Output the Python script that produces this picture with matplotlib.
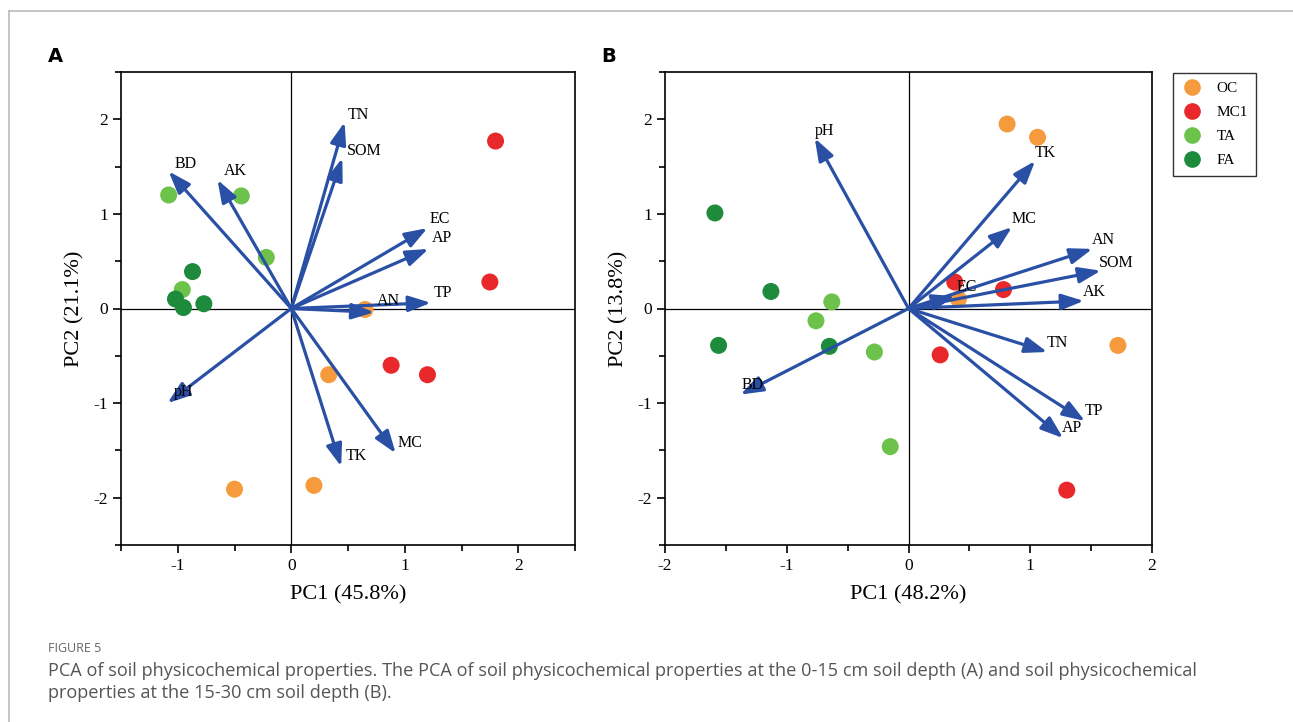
import numpy as np
import matplotlib
matplotlib.use('Agg')
import matplotlib.pyplot as plt
from matplotlib.lines import Line2D
from matplotlib.ticker import MultipleLocator, FuncFormatter

groups = ['OC', 'MC1', 'TA', 'FA']
colors = ['#F59B3D', '#E8282B', '#6DC24B', '#1E8B3C']
blue = '#2A50A6'

# panel A (0-15 cm) sample scores
a_pts = {
    'OC': ([0.65, 0.33, -0.50, 0.20], [-0.01, -0.70, -1.91, -1.87]),
    'MC1': ([1.80, 1.75, 0.88, 1.20], [1.77, 0.28, -0.60, -0.70]),
    'TA': ([-1.08, -0.44, -0.22, -0.96], [1.20, 1.19, 0.54, 0.20]),
    'FA': ([-0.87, -1.02, -0.95, -0.77], [0.39, 0.10, 0.01, 0.05]),
}
a_vars = ['TN', 'SOM', 'BD', 'AK', 'EC', 'AP', 'TP', 'AN', 'pH', 'TK', 'MC']
a_vx = [0.47, 0.45, -1.08, -0.65, 1.20, 1.21, 1.23, 0.73, -1.09, 0.44, 0.92]
a_vy = [1.97, 1.59, 1.45, 1.36, 0.85, 0.63, 0.06, -0.04, -1.00, -1.67, -1.53]
a_lx = [0.59, 0.64, -0.93, -0.49, 1.31, 1.33, 1.34, 0.86, -0.95, 0.57, 1.05]
a_ly = [2.05, 1.67, 1.53, 1.45, 0.95, 0.74, 0.16, 0.08, -0.88, -1.56, -1.42]

# panel B (15-30 cm)
b_pts = {
    'OC': ([0.81, 1.06, 0.41, 1.72], [1.95, 1.81, 0.10, -0.39]),
    'MC1': ([0.38, 0.78, 0.26, 1.30], [0.28, 0.20, -0.49, -1.92]),
    'TA': ([-0.63, -0.76, -0.28, -0.15], [0.07, -0.13, -0.46, -1.46]),
    'FA': ([-1.59, -1.13, -1.56, -0.65], [1.01, 0.18, -0.39, -0.40]),
}
b_vars = ['pH', 'TK', 'MC', 'AN', 'SOM', 'AK', 'EC', 'TN', 'TP', 'AP', 'BD']
b_vx = [-0.77, 1.04, 0.85, 1.51, 1.58, 1.44, 0.38, 1.14, 1.45, 1.27, -1.38]
b_vy = [1.80, 1.56, 0.86, 0.63, 0.40, 0.08, 0.13, -0.46, -1.19, -1.37, -0.91]
b_lx = [-0.69, 1.12, 0.95, 1.60, 1.71, 1.53, 0.48, 1.22, 1.52, 1.34, -1.28]
b_ly = [1.88, 1.64, 0.95, 0.72, 0.48, 0.17, 0.23, -0.36, -1.08, -1.26, -0.81]

serif = 'Liberation Serif'

fig = plt.figure(figsize=(12.93, 7.22), dpi=100)
axA = fig.add_axes([121/1293, 1-545/722, 454/1293, 473/722])
axB = fig.add_axes([665/1293, 1-545/722, 487/1293, 473/722])


def draw(ax, pts, vars_, vx, vy, lx, ly, xlim, xlabel, ylabel):
    for g, c in zip(groups, colors):
        ax.scatter(pts[g][0], pts[g][1], s=150, color=c, edgecolors='none', zorder=2)
    ax.axhline(0, color='black', lw=0.9, zorder=1)
    ax.axvline(0, color='black', lw=0.9, zorder=1)
    for name, x, y, tx, ty in zip(vars_, vx, vy, lx, ly):
        ax.annotate('', xy=(x, y), xytext=(0, 0),
                    arrowprops=dict(arrowstyle='-|>,head_length=0.9,head_width=0.32',
                                    color=blue, lw=2.3, shrinkA=0, shrinkB=0,
                                    mutation_scale=15), zorder=3)
        ax.text(tx, ty, name, fontsize=11.5, family=serif, ha='center', va='center', zorder=4)
    ax.set_xlim(*xlim)
    ax.set_ylim(-2.5, 2.5)
    ax.xaxis.set_major_locator(MultipleLocator(1))
    ax.xaxis.set_minor_locator(MultipleLocator(0.5))
    ax.yaxis.set_major_locator(MultipleLocator(1))
    ax.yaxis.set_minor_locator(MultipleLocator(0.5))
    # hyphen minus like the original
    ax.xaxis.set_major_formatter(FuncFormatter(lambda v, p: '%d' % v))
    ax.yaxis.set_major_formatter(FuncFormatter(lambda v, p: '%d' % v))
    ax.tick_params(which='both', direction='out', top=False, right=False, width=1.2)
    ax.tick_params(which='major', length=6, labelsize=12.5)
    ax.tick_params(which='minor', length=4)
    for lab in ax.get_xticklabels() + ax.get_yticklabels():
        lab.set_family(serif)
    for s in ax.spines.values():
        s.set_linewidth(1.2)
    ax.set_xlabel(xlabel, fontsize=16, family=serif, labelpad=8)
    ax.set_ylabel(ylabel, fontsize=16, family=serif, labelpad=6)


draw(axA, a_pts, a_vars, a_vx, a_vy, a_lx, a_ly, (-1.5, 2.5), 'PC1 (45.8%)', 'PC2 (21.1%)')
draw(axB, b_pts, b_vars, b_vx, b_vy, b_lx, b_ly, (-2, 2), 'PC1 (48.2%)', 'PC2 (13.8%)')

handles = [Line2D([], [], marker='o', ls='none', ms=12, color=c, mec='none') for c in colors]
leg = fig.legend(handles, groups, loc='upper left', bbox_to_anchor=(1173/1293, 1-73/722),
                 prop={'family': serif, 'size': 11}, frameon=True, fancybox=False,
                 edgecolor='black', handletextpad=0.85, labelspacing=0.68, borderpad=0.55,
                 handlelength=1.45, borderaxespad=0)
leg.get_frame().set_linewidth(1.0)

fig.text(55/1293, 1-57/722, 'A', fontsize=14, weight='bold', ha='center', va='center')
fig.text(609/1293, 1-57/722, 'B', fontsize=14, weight='bold', ha='center', va='center')

fig.text(48/1293, 1-648/722, 'FIGURE 5', fontsize=9, color='#666666', family='Open Sans',
         va='center')
fig.text(48/1293, 1-671/722,
         'PCA of soil physicochemical properties. The PCA of soil physicochemical properties at the 0-15 cm soil depth (A) and soil physicochemical',
         fontsize=13.1, color='#555555', family='Open Sans', va='center')
fig.text(48/1293, 1-693/722, 'properties at the 15-30 cm soil depth (B).',
         fontsize=13.1, color='#555555', family='Open Sans', va='center')

# page border
fig.add_artist(Line2D([9/1293, 9/1293], [0, 1-11/722], color='#bbbbbb', lw=1.2))
fig.add_artist(Line2D([9/1293, 1], [1-11/722, 1-11/722], color='#bbbbbb', lw=1.2))

fig.savefig('out.png', dpi=100)
